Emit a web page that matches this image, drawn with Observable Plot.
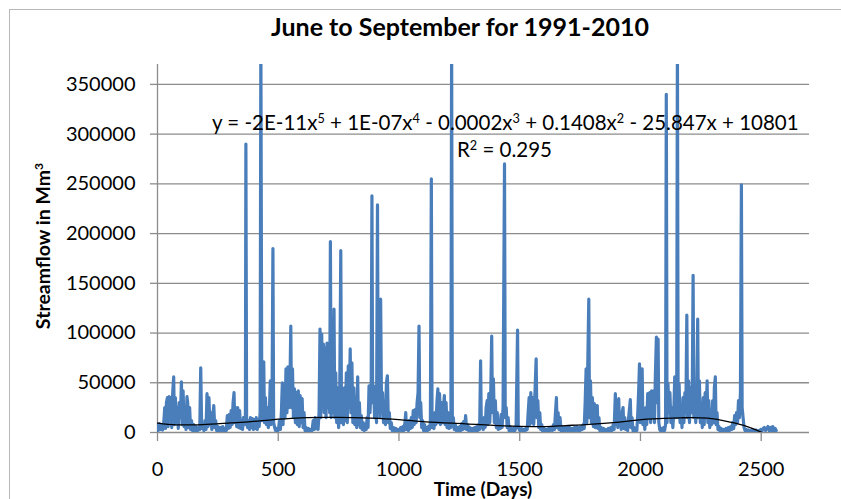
<!DOCTYPE html>
<html>
<head>
<meta charset="utf-8">
<script src="https://cdn.jsdelivr.net/npm/d3@7"></script>
<script src="https://cdn.jsdelivr.net/npm/@observablehq/plot@0.6"></script>
<style>
  body { margin: 0; background: #fff; }
  #chart { position: relative; width: 841px; height: 499px; overflow: hidden; background: #fff; font-family: Lato, "Open Sans", sans-serif; color: #000; }
  #frame { position: absolute; left: 9px; top: 9px; width: 900px; height: 600px; border: 1px solid #b8b8b8; box-sizing: border-box; }
  #title { position: absolute; top: 11px; left: 160px; width: 600px; text-align: center; font-weight: bold; font-size: 25px; }
  #ylabel { position: absolute; left: 42px; top: 246px; transform: translate(-50%, -50%) rotate(-90deg); white-space: nowrap; font-weight: bold; font-size: 19.5px; }
  #xlabel { position: absolute; left: 483px; top: 479px; line-height: 1; transform: translateX(-50%); white-space: nowrap; font-weight: bold; font-size: 19px; }
  #equation { position: absolute; left: 212px; top: 110px; white-space: nowrap; font-size: 20.5px; }
  #rsq { position: absolute; left: 457px; top: 137px; white-space: nowrap; font-size: 20.5px; }
  sup { font-size: 0.62em; vertical-align: 0.55em; line-height: 0; }
  #plot { position: absolute; left: 0; top: 50px; }
</style>
</head>
<body>
<div id="chart">
  <div id="frame"></div>
  <div id="plot"></div>
  <div id="title">June to September for 1991-2010</div>
  <div id="ylabel">Streamflow in Mm<sup>3</sup></div>
  <div id="xlabel">Time (Days)</div>
  <div id="equation">y = -2E-11x<sup>5</sup> + 1E-07x<sup>4</sup> - 0.0002x<sup>3</sup> + 0.1408x<sup>2</sup> - 25.847x + 10801</div>
  <div id="rsq">R<sup>2</sup> = 0.295</div>
</div>
<script>
// Daily streamflow (Mm3), June–September seasons laid end to end; [day, flow]
const part1 = [
  [0, 8000], [3, 2000], [8, 9000], [12, 3000], [17, 8000], [21, 2500], [26, 10000], [30, 25000], [33, 4000],
  [37, 30000], [41, 35000], [44, 6000], [48, 36000], [52, 12000], [55, 35000], [59, 5000], [63, 40000],
  [67, 56000], [70, 8000], [74, 35000], [78, 10000], [82, 25000], [86, 4000], [90, 30000], [95, 15000],
  [99, 51000], [102, 8000], [106, 42000], [110, 6000], [114, 25000], [118, 3000], [122, 36000], [125, 30000],
  [129, 5000], [133, 25000], [137, 3000], [141, 12000], [145, 2000], [150, 8000], [155, 1500], [160, 6000],
  [165, 1500], [170, 5000], [175, 3000], [179, 65000], [183, 4000], [188, 8000], [192, 2000], [197, 12000],
  [201, 3000], [205, 39000], [209, 6000], [213, 35000], [217, 8000], [221, 20000], [225, 3000], [229, 16000],
  [233, 27000], [237, 5000], [241, 12000], [245, 2000], [250, 6000], [255, 1500], [260, 5000], [265, 2000],
  [270, 6000], [275, 1500], [280, 4000], [285, 2000], [289, 17000], [293, 4000], [297, 18000], [301, 5000],
  [305, 22000], [309, 8000], [313, 30000], [317, 40000], [320, 10000], [324, 25000], [328, 6000], [332, 25000],
  [336, 5000], [340, 22000], [344, 4000], [348, 12000], [352, 3000], [356, 15000], [360, 8000], [364, 12000],
  [366, 290000], [369, 10000], [373, 5000], [377, 12000], [381, 3000], [385, 15000], [389, 5000], [393, 14000],
  [397, 3000], [401, 13000], [405, 4000], [409, 15000], [413, 3000], [417, 13000], [421, 6000], [425, 20000],
  [428, 395000], [432, 12000], [436, 20000], [440, 71000], [443, 10000], [447, 35000], [451, 8000], [455, 25000],
  [459, 5000], [463, 18000], [467, 52000], [470, 8000], [474, 20000], [478, 185000], [481, 10000], [485, 5000],
  [489, 2000], [493, 4000], [497, 1500], [501, 3000], [505, 12000], [509, 3000], [513, 20000], [517, 50000],
  [520, 8000], [524, 48000], [528, 15000], [532, 64000], [536, 20000], [540, 66000], [544, 25000], [548, 40000],
  [552, 107000], [555, 25000], [559, 64000], [563, 15000], [567, 44000], [571, 10000], [575, 40000], [579, 8000],
  [583, 42000], [587, 6000], [591, 37000], [595, 10000], [599, 34000], [603, 5000], [607, 20000], [611, 2000],
  [615, 5000], [620, 1500], [625, 4000], [630, 1500], [635, 3000], [640, 2000]
];
const part2 = [
  [645, 12000], [649, 3000], [653, 15000], [657, 4000], [661, 12000], [665, 3000], [669, 20000], [673, 104000],
  [676, 15000], [680, 99000], [683, 30000], [687, 89000], [690, 20000], [694, 85000], [698, 15000], [702, 90000],
  [705, 25000], [709, 80000], [713, 20000], [716, 192000], [719, 15000], [723, 70000], [727, 20000], [731, 124000],
  [734, 15000], [738, 60000], [742, 10000], [746, 45000], [750, 5000], [754, 20000], [759, 183000], [762, 10000],
  [766, 40000], [770, 8000], [774, 45000], [778, 12000], [782, 60000], [786, 10000], [790, 67000], [794, 25000],
  [798, 84000], [801, 20000], [805, 70000], [809, 10000], [813, 45000], [817, 8000], [821, 35000], [825, 5000],
  [829, 56000], [832, 8000], [836, 30000], [840, 5000], [844, 17000], [848, 3000], [852, 10000], [856, 2000],
  [860, 8000], [864, 3000], [868, 15000], [872, 5000], [876, 47000], [880, 20000], [885, 50000], [888, 238000],
  [891, 30000], [895, 47000], [899, 15000], [903, 40000], [907, 10000], [911, 229000], [914, 20000], [918, 60000],
  [921, 15000], [924, 134000], [928, 20000], [932, 40000], [936, 10000], [940, 30000], [944, 8000], [948, 50000],
  [952, 57000], [956, 10000], [960, 20000], [964, 4000], [968, 10000], [972, 2000], [977, 5000], [982, 1500],
  [987, 4000], [992, 1000], [997, 3000], [1002, 1500], [1007, 5000], [1012, 2000], [1016, 6000], [1020, 2000],
  [1024, 8000], [1028, 20000], [1031, 3000], [1035, 10000], [1039, 2000], [1043, 12000], [1047, 4000], [1051, 15000],
  [1055, 5000], [1059, 22000], [1063, 8000], [1067, 23000], [1071, 10000], [1075, 30000], [1079, 40000], [1083, 107000],
  [1086, 15000], [1090, 30000], [1094, 5000], [1098, 12000], [1102, 2000], [1106, 8000], [1110, 1500], [1114, 5000],
  [1118, 2000], [1122, 6000], [1126, 3000], [1130, 10000], [1134, 255000], [1137, 5000], [1141, 12000], [1145, 4000],
  [1149, 20000], [1153, 8000], [1157, 30000], [1161, 44000], [1164, 10000], [1168, 39000], [1172, 8000], [1176, 30000],
  [1180, 10000], [1184, 25000], [1188, 37000], [1191, 8000], [1195, 30000], [1199, 5000], [1203, 20000], [1207, 4000],
  [1211, 15000], [1215, 5000], [1218, 395000], [1221, 8000], [1225, 15000], [1229, 3000], [1233, 8000], [1237, 2000],
  [1242, 5000], [1247, 1500], [1252, 6000], [1256, 2000], [1260, 9000], [1264, 3000], [1268, 11000], [1272, 4000],
  [1276, 17000], [1280, 3000]
];
const part3 = [
  [1284, 8000], [1288, 2000], [1293, 5000], [1298, 1500], [1303, 4000], [1308, 1500], [1313, 5000], [1318, 2000],
  [1322, 6000], [1326, 2000], [1330, 8000], [1334, 3000], [1338, 72000], [1341, 5000], [1345, 10000], [1349, 3000],
  [1353, 15000], [1357, 5000], [1361, 25000], [1365, 32000], [1368, 8000], [1372, 39000], [1376, 10000], [1380, 40000],
  [1384, 97000], [1387, 20000], [1391, 54000], [1395, 10000], [1399, 32000], [1403, 5000], [1407, 20000], [1411, 3000],
  [1415, 12000], [1419, 4000], [1423, 18000], [1427, 5000], [1431, 25000], [1437, 270000], [1440, 15000], [1444, 25000],
  [1448, 5000], [1452, 15000], [1456, 2000], [1460, 6000], [1464, 1500], [1468, 4000], [1472, 1500], [1476, 5000],
  [1480, 2000], [1485, 6000], [1491, 103000], [1494, 5000], [1498, 3000], [1502, 1500], [1507, 4000], [1512, 1000],
  [1517, 3000], [1522, 1500], [1527, 5000], [1531, 3000], [1535, 20000], [1539, 35000], [1542, 8000], [1546, 40000],
  [1550, 10000], [1554, 35000], [1558, 8000], [1562, 32000], [1568, 74000], [1571, 15000], [1575, 32000], [1579, 5000],
  [1583, 20000], [1587, 3000], [1591, 8000], [1595, 1500], [1600, 4000], [1605, 1000], [1610, 3000], [1615, 1500],
  [1620, 4000], [1625, 2000], [1630, 5000], [1635, 2000], [1640, 8000], [1644, 3000], [1648, 20000], [1652, 35000],
  [1655, 5000], [1659, 20000], [1663, 3000], [1667, 15000], [1671, 2000], [1676, 6000], [1681, 1500], [1686, 5000],
  [1691, 2000], [1696, 6000], [1701, 1500], [1706, 5000], [1711, 2000], [1716, 4000], [1721, 1500], [1726, 5000],
  [1731, 2000], [1736, 6000], [1741, 1500], [1746, 5000], [1750, 2000], [1755, 6000], [1759, 3000], [1763, 8000],
  [1767, 4000], [1771, 30000], [1775, 64000], [1778, 10000], [1782, 70000], [1786, 134000], [1789, 15000], [1793, 52000],
  [1797, 10000], [1801, 35000], [1805, 6000], [1809, 29000], [1813, 5000], [1817, 20000], [1821, 27000], [1824, 4000],
  [1828, 15000], [1832, 2000], [1837, 5000], [1842, 1500], [1847, 4000], [1852, 1000], [1857, 3000], [1862, 1500],
  [1867, 4000], [1872, 1500], [1877, 5000], [1882, 2000], [1887, 8000], [1891, 3000], [1896, 39000], [1899, 8000],
  [1903, 32000], [1906, 5000], [1910, 34000], [1913, 8000], [1917, 15000], [1920, 3000]
];
const part4 = [
  [1924, 20000], [1928, 25000], [1931, 4000], [1935, 15000], [1939, 3000], [1943, 10000], [1947, 2000], [1951, 15000],
  [1955, 25000], [1958, 33000], [1961, 5000], [1965, 15000], [1969, 2000], [1973, 5000], [1977, 1500], [1981, 4000],
  [1985, 2000], [1989, 20000], [1993, 45000], [1996, 69000], [1999, 10000], [2003, 50000], [2007, 64000], [2010, 8000],
  [2014, 20000], [2018, 3000], [2022, 25000], [2026, 8000], [2030, 39000], [2034, 15000], [2038, 40000], [2042, 10000],
  [2046, 42000], [2050, 15000], [2054, 42000], [2058, 10000], [2062, 60000], [2066, 96000], [2069, 30000], [2073, 94000],
  [2076, 10000], [2080, 3000], [2084, 1500], [2088, 4000], [2092, 1500], [2096, 5000], [2100, 2000], [2104, 8000],
  [2107, 340000], [2110, 10000], [2114, 49000], [2118, 20000], [2122, 40000], [2126, 10000], [2130, 25000], [2134, 5000],
  [2138, 20000], [2142, 56000], [2146, 15000], [2150, 20000], [2153, 395000], [2156, 15000], [2160, 49000], [2164, 10000],
  [2168, 25000], [2172, 5000], [2176, 35000], [2180, 10000], [2184, 40000], [2188, 20000], [2192, 118000], [2195, 15000],
  [2199, 52000], [2203, 10000], [2207, 45000], [2211, 20000], [2215, 55000], [2218, 158000], [2221, 15000], [2225, 49000],
  [2229, 10000], [2233, 40000], [2237, 114000], [2240, 15000], [2244, 52000], [2248, 10000], [2252, 25000], [2256, 5000],
  [2260, 35000], [2264, 8000], [2268, 40000], [2272, 15000], [2276, 52000], [2279, 10000], [2283, 32000], [2287, 5000],
  [2291, 20000], [2295, 8000], [2299, 32000], [2303, 10000], [2306, 45000], [2310, 56000], [2313, 8000], [2317, 20000],
  [2321, 3000], [2325, 6000], [2329, 1500], [2334, 4000], [2339, 1000], [2344, 3000], [2349, 1500], [2354, 4000],
  [2359, 1000], [2364, 5000], [2369, 2000], [2374, 6000], [2378, 3000], [2382, 10000], [2386, 4000], [2390, 17000],
  [2394, 8000], [2398, 20000], [2402, 10000], [2406, 32000], [2410, 15000], [2414, 40000], [2418, 249000], [2421, 25000],
  [2425, 15000], [2429, 5000], [2433, 2000], [2438, 3000], [2443, 1000], [2448, 2500], [2453, 1000], [2458, 2000],
  [2463, 800], [2468, 2000], [2473, 1000], [2478, 2500], [2483, 1000], [2488, 2000], [2493, 1500], [2498, 3000],
  [2503, 1500], [2508, 4000], [2513, 5000], [2518, 2000], [2523, 4000], [2528, 6000], [2533, 2000], [2538, 5000],
  [2543, 1500], [2548, 6000], [2553, 2000], [2558, 4000], [2562, 2000]
];

// 5th-order polynomial trend, sampled along the series
const trendDays  = [0, 77, 187, 304, 387, 482, 593, 740, 883, 999, 1111, 1276, 1470, 1607, 1690, 1773, 1888, 2029, 2165, 2277, 2372, 2442, 2504];
const trendFlow  = [9400, 7700, 8000, 9700, 11000, 13000, 14800, 15200, 14400, 13000, 10700, 8700, 6400, 6000, 7000, 8000, 10000, 13400, 14800, 14400, 10400, 6000, 0];

const xTicks = [0, 500, 1000, 1500, 2000, 2500];
const yTicks = [0, 50000, 100000, 150000, 200000, 250000, 300000, 350000];

const series = [...part1, ...part2, ...part3, ...part4].map(([day, flow]) => ({day, flow}));
const trend = trendDays.map((day, i) => ({day, flow: trendFlow[i]}));

const grid = "#8c8c8c";

const chart = Plot.plot({
  width: 841,
  height: 449,
  marginTop: 14,
  marginBottom: 67,
  marginLeft: 157,
  marginRight: 32,
  style: {fontFamily: "Lato, 'Open Sans', sans-serif", fontSize: "20px", color: "#000", background: "transparent"},
  x: {domain: [0, 2700], label: null},
  y: {domain: [0, 370000], label: null},
  marks: [
    Plot.ruleY(yTicks, {stroke: grid, strokeWidth: 1.3}),
    Plot.axisY(yTicks, {tickSize: 7, tickPadding: 15, stroke: grid, strokeWidth: 1.3, strokeOpacity: 1, tickFormat: d => String(d), fill: "#000", fontSize: 20}),
    Plot.ruleX([0], {stroke: grid, strokeWidth: 1.3}),
    Plot.axisX(xTicks, {tickSize: 9, tickPadding: 20, stroke: grid, strokeWidth: 1.3, strokeOpacity: 1, tickFormat: d => String(d), fill: "#000", fontSize: 20}),
    Plot.line(series, {x: "day", y: "flow", stroke: "#4A7EBB", strokeWidth: 3.2, strokeLinejoin: "round", clip: true}),
    Plot.line(trend, {x: "day", y: "flow", stroke: "#000", strokeWidth: 1.3, curve: "catmull-rom", clip: true})
  ]
});
document.getElementById("plot").append(chart);
</script>
</body>
</html>
